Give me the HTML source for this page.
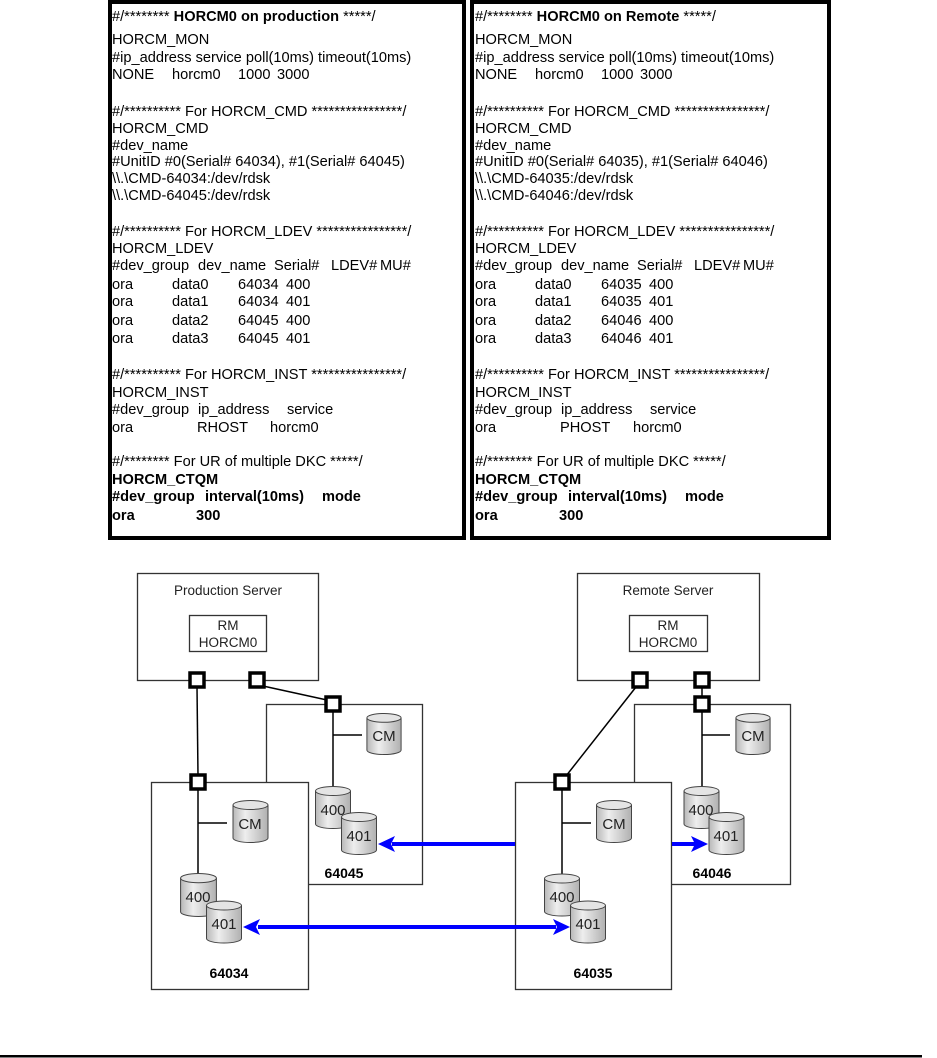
<!DOCTYPE html>
<html><head><meta charset="utf-8"><style>
body{margin:0;background:#fff;}
#c{position:relative;width:937px;height:1058px;overflow:hidden;font-family:"Liberation Sans",sans-serif;}
.box{position:absolute;border:4px solid #000;box-sizing:border-box;background:#fff;}
.t{position:absolute;font-size:14.6px;line-height:16px;white-space:pre;color:#000;}
.b{font-weight:bold;}
</style></head><body><div id="c">
<div class="box" style="left:108px;top:0;width:358px;height:540px"></div>
<div class="box" style="left:470px;top:0;width:361px;height:540px"></div>

<!-- left text -->
<div class="t" style="left:112px;top:9px">#/******** <b>HORCM0 on production</b> *****/</div>
<div class="t" style="left:112px;top:32px">HORCM_MON</div>
<div class="t" style="left:112px;top:50px">#ip_address service poll(10ms) timeout(10ms)</div>
<div class="t" style="left:112px;top:67px">NONE</div><div class="t" style="left:172px;top:67px">horcm0</div><div class="t" style="left:238px;top:67px">1000</div><div class="t" style="left:277px;top:67px">3000</div>
<div class="t" style="left:112px;top:104px">#/********** For HORCM_CMD ****************/</div>
<div class="t" style="left:112px;top:121px">HORCM_CMD</div>
<div class="t" style="left:112px;top:138px">#dev_name</div>
<div class="t" style="left:112px;top:154px">#UnitID #0(Serial# 64034), #1(Serial# 64045)</div>
<div class="t" style="left:112px;top:171px">\\.\CMD-64034:/dev/rdsk</div>
<div class="t" style="left:112px;top:188px">\\.\CMD-64045:/dev/rdsk</div>
<div class="t" style="left:112px;top:224px">#/********** For HORCM_LDEV ****************/</div>
<div class="t" style="left:112px;top:241px">HORCM_LDEV</div>
<div class="t" style="left:112px;top:258px">#dev_group</div><div class="t" style="left:198px;top:258px">dev_name</div><div class="t" style="left:274px;top:258px">Serial#</div><div class="t" style="left:331px;top:258px">LDEV#</div><div class="t" style="left:380px;top:258px">MU#</div>
<div class="t" style="left:112px;top:277px">ora</div><div class="t" style="left:172px;top:277px">data0</div><div class="t" style="left:238px;top:277px">64034</div><div class="t" style="left:286px;top:277px">400</div>
<div class="t" style="left:112px;top:294px">ora</div><div class="t" style="left:172px;top:294px">data1</div><div class="t" style="left:238px;top:294px">64034</div><div class="t" style="left:286px;top:294px">401</div>
<div class="t" style="left:112px;top:313px">ora</div><div class="t" style="left:172px;top:313px">data2</div><div class="t" style="left:238px;top:313px">64045</div><div class="t" style="left:286px;top:313px">400</div>
<div class="t" style="left:112px;top:331px">ora</div><div class="t" style="left:172px;top:331px">data3</div><div class="t" style="left:238px;top:331px">64045</div><div class="t" style="left:286px;top:331px">401</div>
<div class="t" style="left:112px;top:367px">#/********** For HORCM_INST ****************/</div>
<div class="t" style="left:112px;top:385px">HORCM_INST</div>
<div class="t" style="left:112px;top:402px">#dev_group</div><div class="t" style="left:198px;top:402px">ip_address</div><div class="t" style="left:287px;top:402px">service</div>
<div class="t" style="left:112px;top:420px">ora</div><div class="t" style="left:197px;top:420px">RHOST</div><div class="t" style="left:270px;top:420px">horcm0</div>
<div class="t" style="left:112px;top:454px">#/******** For UR of multiple DKC *****/</div>
<div class="t b" style="left:112px;top:472px">HORCM_CTQM</div>
<div class="t b" style="left:112px;top:489px">#dev_group</div><div class="t b" style="left:205px;top:489px">interval(10ms)</div><div class="t b" style="left:322px;top:489px">mode</div>
<div class="t b" style="left:112px;top:508px">ora</div><div class="t b" style="left:196px;top:508px">300</div>

<!-- right text -->
<div class="t" style="left:475px;top:9px">#/******** <b>HORCM0 on Remote</b> *****/</div>
<div class="t" style="left:475px;top:32px">HORCM_MON</div>
<div class="t" style="left:475px;top:50px">#ip_address service poll(10ms) timeout(10ms)</div>
<div class="t" style="left:475px;top:67px">NONE</div><div class="t" style="left:535px;top:67px">horcm0</div><div class="t" style="left:601px;top:67px">1000</div><div class="t" style="left:640px;top:67px">3000</div>
<div class="t" style="left:475px;top:104px">#/********** For HORCM_CMD ****************/</div>
<div class="t" style="left:475px;top:121px">HORCM_CMD</div>
<div class="t" style="left:475px;top:138px">#dev_name</div>
<div class="t" style="left:475px;top:154px">#UnitID #0(Serial# 64035), #1(Serial# 64046)</div>
<div class="t" style="left:475px;top:171px">\\.\CMD-64035:/dev/rdsk</div>
<div class="t" style="left:475px;top:188px">\\.\CMD-64046:/dev/rdsk</div>
<div class="t" style="left:475px;top:224px">#/********** For HORCM_LDEV ****************/</div>
<div class="t" style="left:475px;top:241px">HORCM_LDEV</div>
<div class="t" style="left:475px;top:258px">#dev_group</div><div class="t" style="left:561px;top:258px">dev_name</div><div class="t" style="left:637px;top:258px">Serial#</div><div class="t" style="left:694px;top:258px">LDEV#</div><div class="t" style="left:743px;top:258px">MU#</div>
<div class="t" style="left:475px;top:277px">ora</div><div class="t" style="left:535px;top:277px">data0</div><div class="t" style="left:601px;top:277px">64035</div><div class="t" style="left:649px;top:277px">400</div>
<div class="t" style="left:475px;top:294px">ora</div><div class="t" style="left:535px;top:294px">data1</div><div class="t" style="left:601px;top:294px">64035</div><div class="t" style="left:649px;top:294px">401</div>
<div class="t" style="left:475px;top:313px">ora</div><div class="t" style="left:535px;top:313px">data2</div><div class="t" style="left:601px;top:313px">64046</div><div class="t" style="left:649px;top:313px">400</div>
<div class="t" style="left:475px;top:331px">ora</div><div class="t" style="left:535px;top:331px">data3</div><div class="t" style="left:601px;top:331px">64046</div><div class="t" style="left:649px;top:331px">401</div>
<div class="t" style="left:475px;top:367px">#/********** For HORCM_INST ****************/</div>
<div class="t" style="left:475px;top:385px">HORCM_INST</div>
<div class="t" style="left:475px;top:402px">#dev_group</div><div class="t" style="left:561px;top:402px">ip_address</div><div class="t" style="left:650px;top:402px">service</div>
<div class="t" style="left:475px;top:420px">ora</div><div class="t" style="left:560px;top:420px">PHOST</div><div class="t" style="left:633px;top:420px">horcm0</div>
<div class="t" style="left:475px;top:454px">#/******** For UR of multiple DKC *****/</div>
<div class="t b" style="left:475px;top:472px">HORCM_CTQM</div>
<div class="t b" style="left:475px;top:489px">#dev_group</div><div class="t b" style="left:568px;top:489px">interval(10ms)</div><div class="t b" style="left:685px;top:489px">mode</div>
<div class="t b" style="left:475px;top:508px">ora</div><div class="t b" style="left:559px;top:508px">300</div>

<svg width="937" height="1058" style="position:absolute;left:0;top:0" font-family="Liberation Sans, sans-serif">
<defs>
<linearGradient id="g" x1="0" x2="1" y1="0" y2="0">
<stop offset="0" stop-color="#b8b8b8"/><stop offset="0.35" stop-color="#eeeeee"/><stop offset="1" stop-color="#b0b0b0"/>
</linearGradient>
<symbol id="cyl" viewBox="0 0 36 43" overflow="visible">
<path d="M0.5 5 V38 A17.5 4.5 0 0 0 35.5 38 V5" fill="url(#g)" stroke="#444" stroke-width="1"/>
<ellipse cx="18" cy="5" rx="17.5" ry="4.5" fill="#e4e4e4" stroke="#444" stroke-width="1"/>
</symbol>
</defs>
<g fill="none" stroke="#333" stroke-width="1.3">
<rect x="137.5" y="573.5" width="181" height="107" fill="#fff"/>
<rect x="189.5" y="615.5" width="77" height="36"/>
<rect x="577.5" y="573.5" width="182" height="107" fill="#fff"/>
<rect x="629.5" y="615.5" width="78" height="36"/>
<rect x="266.5" y="704.5" width="156" height="180" fill="#fff"/>
<rect x="151.5" y="782.5" width="157" height="207" fill="#fff"/>
<rect x="634.5" y="704.5" width="156" height="180" fill="#fff"/>
<rect x="515.5" y="782.5" width="156" height="207" fill="#fff"/>
</g>
<g stroke="#000" stroke-width="1.5">
<line x1="197" y1="687" x2="198" y2="776"/>
<line x1="263" y1="686" x2="327" y2="700"/>
<line x1="636" y1="687" x2="566" y2="776"/>
<line x1="702" y1="687" x2="702" y2="698"/>
<line x1="333" y1="711" x2="333" y2="790"/><line x1="333" y1="735" x2="362" y2="735"/>
<line x1="198" y1="789" x2="198" y2="876"/><line x1="198" y1="823" x2="227" y2="823"/>
<line x1="562" y1="789" x2="562" y2="876"/><line x1="562" y1="823" x2="591" y2="823"/>
<line x1="702" y1="711" x2="702" y2="790"/><line x1="702" y1="735" x2="730" y2="735"/>
</g>
<g fill="#fff" stroke="#000" stroke-width="3.5">
<rect x="190" y="673" width="14" height="14"/><rect x="250" y="673" width="14" height="14"/>
<rect x="326" y="697" width="14" height="14"/><rect x="191" y="775" width="14" height="14"/>
<rect x="633" y="673" width="14" height="14"/><rect x="695" y="673" width="14" height="14"/>
<rect x="695" y="697" width="14" height="14"/><rect x="555" y="775" width="14" height="14"/>
</g>
<use href="#cyl" x="366" y="713" width="36" height="42"/>
<use href="#cyl" x="315" y="786" width="36" height="43"/>
<use href="#cyl" x="341" y="812" width="36" height="43"/>
<use href="#cyl" x="232" y="800" width="37" height="43"/>
<use href="#cyl" x="180" y="873" width="37" height="44"/>
<use href="#cyl" x="206" y="900" width="36" height="44"/>
<use href="#cyl" x="596" y="800" width="36" height="43"/>
<use href="#cyl" x="544" y="873" width="36" height="44"/>
<use href="#cyl" x="570" y="900" width="36" height="44"/>
<use href="#cyl" x="735" y="713" width="36" height="42"/>
<use href="#cyl" x="683" y="786" width="37" height="43"/>
<use href="#cyl" x="708" y="812" width="37" height="43"/>
<g font-size="15" fill="#222" text-anchor="middle">
<text x="384" y="741">CM</text><text x="333" y="815">400</text><text x="359" y="841">401</text>
<text x="250" y="829">CM</text><text x="198" y="902">400</text><text x="224" y="929">401</text>
<text x="614" y="829">CM</text><text x="562" y="902">400</text><text x="588" y="929">401</text>
<text x="753" y="741">CM</text><text x="701" y="815">400</text><text x="726" y="841">401</text>
</g>
<g font-size="13.5" fill="#222" text-anchor="middle">
<text x="228" y="595">Production Server</text>
<text x="228" y="630">RM</text><text x="228" y="647">HORCM0</text>
<text x="668" y="595">Remote Server</text>
<text x="668" y="630">RM</text><text x="668" y="647">HORCM0</text>
</g>
<g font-size="14" font-weight="bold" fill="#000" text-anchor="middle">
<text x="344" y="878">64045</text><text x="229" y="978">64034</text>
<text x="593" y="978">64035</text><text x="712" y="878">64046</text>
</g>
<g fill="#0000ff" stroke="#0000ff">
<line x1="515" y1="844" x2="392" y2="844" stroke-width="4"/>
<polygon points="378,844 395,836 391,844 395,852" stroke="none"/>
<line x1="258" y1="927" x2="556" y2="927" stroke-width="4"/>
<polygon points="243,927 260,919 256,927 260,935" stroke="none"/>
<polygon points="570,927 553,919 557,927 553,935" stroke="none"/>
<line x1="672" y1="844" x2="696" y2="844" stroke-width="4"/>
<polygon points="708,844 691,836 695,844 691,852" stroke="none"/>
</g>
<rect x="0" y="1055" width="922" height="2.5" fill="#000"/>
</svg>
</div></body></html>
